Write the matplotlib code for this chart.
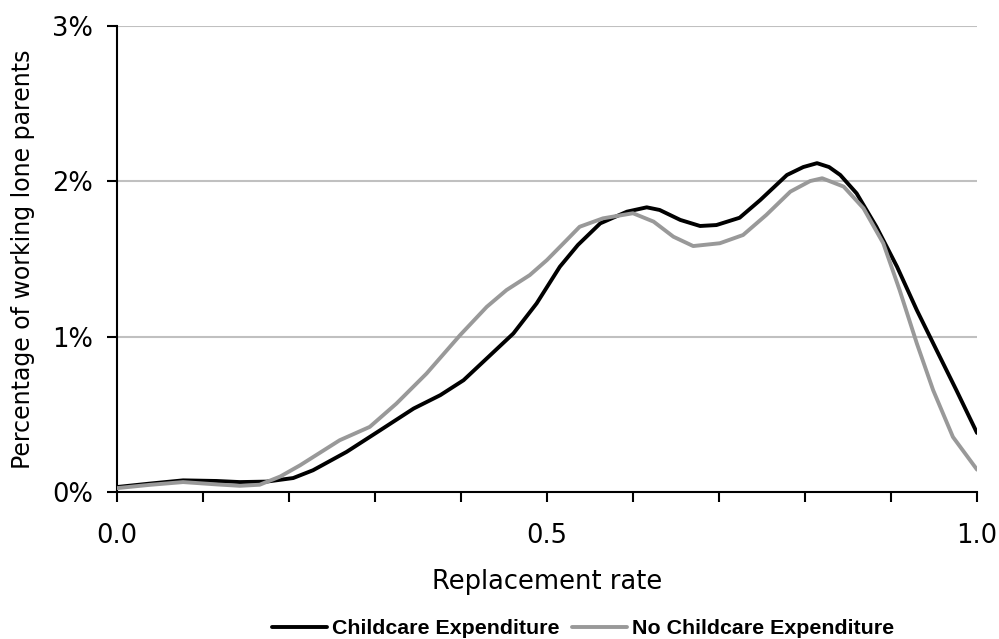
import matplotlib
matplotlib.use('Agg')
import matplotlib.pyplot as plt
from matplotlib.ticker import FuncFormatter, MultipleLocator

plt.rcParams['font.family'] = ['DejaVu Sans']

# Values (x = replacement rate, y = % of working lone parents)
x_child = [0.0, 0.038, 0.077, 0.116, 0.143, 0.174, 0.205, 0.228, 0.267, 0.306, 0.345,
           0.376, 0.403, 0.43, 0.461, 0.488, 0.515, 0.536, 0.562, 0.593, 0.616, 0.631,
           0.655, 0.678, 0.697, 0.724, 0.748, 0.779, 0.798, 0.814, 0.828, 0.841, 0.86,
           0.883, 0.907, 0.93, 0.953, 0.976, 1.0]
y_child = [0.032, 0.054, 0.075, 0.071, 0.064, 0.067, 0.09, 0.14, 0.258, 0.397, 0.537,
           0.623, 0.719, 0.859, 1.02, 1.213, 1.449, 1.589, 1.728, 1.803, 1.831, 1.814,
           1.75, 1.711, 1.717, 1.764, 1.878, 2.039, 2.09, 2.115, 2.09, 2.039, 1.921,
           1.706, 1.449, 1.17, 0.912, 0.655, 0.38]

x_nochild = [0.0, 0.038, 0.077, 0.116, 0.143, 0.166, 0.19, 0.213, 0.259, 0.294, 0.325,
             0.36, 0.399, 0.43, 0.453, 0.48, 0.5, 0.523, 0.538, 0.565, 0.6, 0.624,
             0.647, 0.67, 0.701, 0.728, 0.755, 0.783, 0.806, 0.82, 0.845, 0.868,
             0.891, 0.91, 0.93, 0.949, 0.972, 1.0]
y_nochild = [0.025, 0.046, 0.064, 0.049, 0.04, 0.047, 0.1, 0.172, 0.333, 0.419, 0.569,
             0.762, 1.009, 1.191, 1.299, 1.395, 1.492, 1.621, 1.706, 1.76, 1.793, 1.739,
             1.642, 1.582, 1.6, 1.653, 1.782, 1.932, 2.0, 2.018, 1.964, 1.825,
             1.6, 1.299, 0.956, 0.655, 0.354, 0.144]

series_names = ['Childcare Expenditure', 'No Childcare Expenditure']

fig = plt.figure(figsize=(9.99, 6.39), dpi=100)
ax = fig.add_axes([0.117, 0.230, 0.861, 0.730])

ax.plot(x_child, y_child, color='black', lw=2.8, label=series_names[0],
        solid_joinstyle='round', solid_capstyle='round', zorder=3)
ax.plot(x_nochild, y_nochild, color='#999999', lw=2.8, label=series_names[1],
        solid_joinstyle='round', solid_capstyle='round', zorder=3)

ax.set_xlim(0, 1)
ax.set_ylim(0, 3)
ax.xaxis.set_major_locator(MultipleLocator(0.5))
ax.xaxis.set_minor_locator(MultipleLocator(0.1))
ax.yaxis.set_major_locator(MultipleLocator(1))
ax.xaxis.set_major_formatter(FuncFormatter(lambda v, p: f'{v:.1f}'))
ax.yaxis.set_major_formatter(FuncFormatter(lambda v, p: f'{v:.0f}%'))

ax.grid(axis='y', color='#c0c0c0', lw=1.5, zorder=1)
for s in ['top', 'right']:
    ax.spines[s].set_visible(False)
for s in ['left', 'bottom']:
    ax.spines[s].set_linewidth(1.5)

ax.tick_params(axis='x', which='both', direction='out', length=7.2, width=1.5,
               labelsize=18.5, pad=15)
ax.tick_params(axis='y', which='major', direction='out', length=7.2, width=1.5,
               labelsize=18.5, pad=10)

ax.set_xlabel('Replacement rate', fontsize=18.5, labelpad=14.5)
ax.set_ylabel('Percentage of working lone parents', fontsize=17, va='center')
ax.yaxis.set_label_coords(-0.109, 0.5)

fig.legend(loc='center', bbox_to_anchor=(0.5836, 0.016), ncol=2, frameon=False,
           prop={'family': 'Liberation Sans', 'weight': 'bold', 'size': 15.4},
           handlelength=2.6, handletextpad=0.23, columnspacing=0.56,
           borderpad=0, borderaxespad=0)

fig.savefig('out.png', dpi=100, facecolor='white')
